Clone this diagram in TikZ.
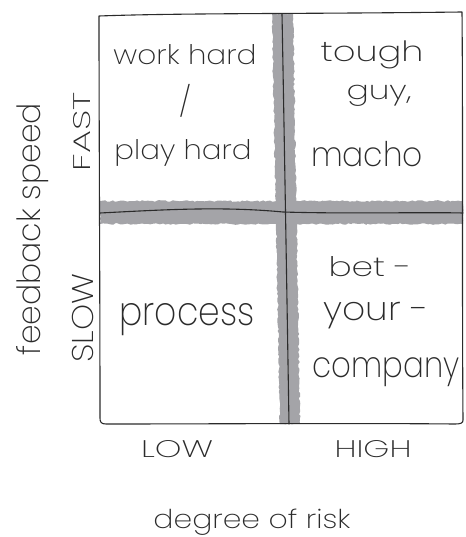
\documentclass[tikz,border=0pt]{standalone}
\usepackage{fontspec}
\setmainfont{Poppins}[UprightFont=* ExtraLight]
\usetikzlibrary{decorations.pathmorphing}
\definecolor{ink}{HTML}{2B2B2B}
\definecolor{band}{HTML}{A4A4A8}
% stretch a label horizontally to a given width, keeping its height
\newcommand\fitw[2]{\resizebox{#1pt}{\height}{#2}}
\begin{document}
\begin{tikzpicture}[x=1pt,y=-1pt,
  outline/.style={draw=ink,line width=1.1pt,line cap=round,line join=round},
  bandfill/.style={fill=band,decorate,decoration={random steps,segment length=2.5pt,amplitude=0.8pt}},
  hand/.style={text=ink,inner sep=0pt,anchor=base,font=\fontsize{#1}{#1}\selectfont},
]
\pgfmathsetseed{7}
\useasboundingbox (0,0) rectangle (465,537);

% shaded dividers
\path[bandfill] (272,14) -- (293,14) -- (300,424) -- (280,424) -- cycle;
\path[bandfill] (100,201) -- (463,201) -- (463,224) -- (100,224) -- cycle;

% frame
\draw[outline] (99,16) .. controls (180,13) and (300,14) .. (462,12)
  .. controls (463,120) and (462,300) .. (463,420)
  .. controls (463,423) and (461,424) .. (455,424)
  .. controls (350,423) and (200,424) .. (106,424)
  .. controls (101,424) and (100,422) .. (100,418)
  .. controls (100,300) and (99,120) .. (99,16);

% quadrant dividers
\draw[outline] (282,14) .. controls (284,120) and (287,300) .. (289,424);
\draw[outline] (100,213) .. controls (160,210) and (220,206) .. (283,212)
  .. controls (350,214) and (420,212) .. (463,213);

% quadrant labels
\node[hand=27] (wh) at (185,65) {\fitw{143}{work hard}};
\node[hand=30,anchor=center] (sl) at (185,101) {/};
\node[hand=27] (ph) at (183,160) {\fitw{137}{play hard}};
\node[hand=28] (tg) at (372,62) {\fitw{103}{tough}};
\node[hand=26] (gy) at (379,100) {\fitw{65}{guy,}};
\node[hand=34] (mc) at (367,167) {\fitw{112}{macho}};
\node[hand=40] (pr) at (187,325) {\fitw{135}{process}};
\node[hand=27] (bt) at (370,276) {\fitw{83}{bet -}};
\node[hand=33] (yr) at (376,320) {\fitw{105}{your -}};
\node[hand=36] (cp) at (386,377) {\fitw{147}{company}};

% axis labels
\node[hand=24] (lo) at (177,457) {\fitw{72}{LOW}};
\node[hand=24] (hi) at (373,457) {\fitw{77}{HIGH}};
\node[hand=26] (xl) at (252,528) {\fitw{197}{degree of risk}};
\node[hand=24,rotate=90] (fa) at (90,132) {\fitw{79}{FAST}};
\node[hand=30,rotate=90] (so) at (93,318) {\fitw{89}{SLOW}};
\node[hand=32,rotate=90] (yl) at (40,229) {\fitw{252}{feedback speed}};
\end{tikzpicture}
\end{document}
